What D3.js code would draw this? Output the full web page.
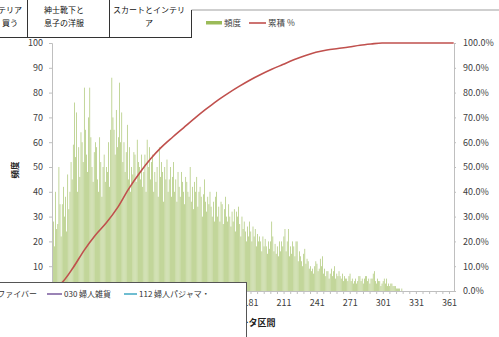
<!DOCTYPE html>
<html>
<head>
<meta charset="utf-8">
<script src="https://cdn.jsdelivr.net/npm/d3@7"></script>
<style>
  html, body { margin: 0; padding: 0; background: #fff; }
  svg { display: block; }
  text { font-family: "Noto Sans CJK JP", "Noto Sans", sans-serif; }
</style>
</head>
<body>
<svg id="chart" width="499" height="337"></svg>
<script>
// Data intervals (1..365) and their frequencies
const categories = d3.range(1, 366);
const frequency = [
  46, 28, 18, 40, 25, 27, 50, 35, 22, 35,
  42, 30, 38, 24, 47, 33, 40, 52, 45, 59,
  76, 54, 72, 40, 58, 46, 64, 60, 52, 82,
  65, 55, 48, 70, 82, 62, 50, 44, 56, 60,
  58, 45, 40, 62, 52, 38, 50, 55, 44, 50,
  48, 60, 42, 65, 86, 70, 65, 55, 73, 58,
  62, 84, 60, 72, 52, 60, 48, 56, 67, 45,
  58, 40, 50, 47, 56, 55, 44, 61, 52, 50,
  45, 55, 42, 48, 55, 40, 61, 50, 58, 45,
  52, 55, 40, 48, 44, 50, 38, 58, 46, 52,
  48, 36, 50, 45, 53, 40, 45, 50, 38, 46,
  52, 40, 45, 36, 48, 42, 38, 48, 44, 40,
  35, 46, 44, 40, 38, 50, 36, 42, 33, 44,
  40, 46, 34, 40, 42, 38, 30, 39, 45, 36,
  32, 38, 35, 40, 34, 30, 36, 28, 38, 40,
  30, 34, 28, 36, 35, 27, 33, 38, 30, 28,
  35, 30, 26, 32, 28, 33, 24, 32, 30, 34,
  27, 22, 30, 25, 28, 24, 20, 26, 22, 28,
  24, 20, 26, 22, 25, 18, 23, 20, 22, 20,
  16, 22, 18, 21, 18, 15, 20, 17, 20, 28,
  22, 16, 19, 15, 18, 14, 20, 16, 20, 18,
  22, 25, 16, 20, 25, 14, 18, 15, 20, 18,
  14, 20, 20, 12, 16, 14, 12, 10, 15, 17,
  11, 13, 12, 9, 10, 8, 9, 7, 10, 12,
  11, 8, 9, 13, 10, 14, 7, 9, 6, 8,
  8, 5, 7, 9, 6, 8, 10, 5, 7, 6,
  8, 6, 5, 7, 4, 6, 5, 5, 4, 6,
  7, 4, 5, 3, 4, 5, 3, 4, 6, 6,
  4, 5, 3, 5, 6, 6, 4, 5, 3, 5,
  5, 7, 8, 4, 3, 5, 4, 4, 2, 3,
  4, 5, 3, 5, 2, 3, 2, 3, 3, 2,
  2, 2, 1, 1, 1, 1, 0, 1, 0, 0,
  0, 0, 0, 0, 0, 0, 0, 0, 0, 0,
  0, 0, 0, 0, 0, 0, 0, 0, 0, 0,
  0, 0, 0, 0, 0, 0, 0, 0, 0, 0,
  0, 0, 0, 0, 0, 0, 0, 0, 0, 0,
  0, 0, 0, 0, 0
];
// Cumulative percentage at selected intervals
const cumulativeCats = [1, 10, 20, 30, 40, 50, 60, 70, 80, 90, 100, 110, 120, 130, 140, 150,
  160, 170, 180, 190, 200, 210, 220, 230, 240, 250, 260, 270, 280, 290, 300, 330, 365];
const cumulativePct = [1.0, 3.5, 9.5, 16.5, 22.5, 27.5, 33.5, 41.0, 47.5, 53.2, 58.0, 62.0, 65.8, 69.6, 73.2, 76.6,
  79.6, 82.4, 85.0, 87.3, 89.4, 91.3, 93.2, 94.9, 96.3, 97.2, 97.8, 98.4, 99.1, 99.6, 100, 100, 100];
const xTickLabels = [1, 31, 61, 91, 121, 151, 181, 211, 241, 271, 301, 331, 361];
const yTicks = [0, 10, 20, 30, 40, 50, 60, 70, 80, 90, 100];
const pctTicks = [0, 0.1, 0.2, 0.3, 0.4, 0.5, 0.6, 0.7, 0.8, 0.9, 1.0];
const seriesNames = ["頻度", "累積 %"];
const tabRows = [["テリア", "買う"], ["紳士靴下と", "息子の洋服"], ["スカートとインテリ", "ア"]];
const otherLegend = ["ファイバー", "030 婦人雑貨", "112 婦人パジャマ・"];

const svg = d3.select("#chart");
const plotLeft = 52, plotRight = 454, plotTop = 43, plotBottom = 291;
const panelRight = 246.5; // right edge of the overlapping legend panel

const x = d3.scaleBand().domain(categories).range([plotLeft, plotRight]).paddingInner(0.45);
const y = d3.scaleLinear().domain([0, 100]).range([plotBottom, plotTop]);
const y2 = d3.scaleLinear().domain([0, 1]).range([plotBottom, plotTop]);

svg.append("rect").attr("width", 499).attr("height", 337).attr("fill", "#fff");

// frequency bars
svg.append("g").selectAll("rect")
  .data(categories.map((c, i) => ({ c, v: frequency[i] })))
  .join("rect")
  .attr("x", d => x(d.c))
  .attr("width", x.bandwidth())
  .attr("y", d => y(d.v))
  .attr("height", d => plotBottom - y(d.v))
  .attr("fill", "#9bbb59");

// axes
const axisColor = "#bfbfbf";
const gl = svg.append("g").attr("transform", `translate(${plotLeft},0)`)
  .call(d3.axisLeft(y).tickValues(yTicks).tickSize(3).tickPadding(6).tickFormat(d3.format("d")));
const gr = svg.append("g").attr("transform", `translate(${plotRight},0)`)
  .call(d3.axisRight(y2).tickValues(pctTicks).tickSize(2).tickPadding(7).tickFormat(d3.format(".1%")));
// category labels that sit fully under the legend panel are left out
const gb = svg.append("g").attr("transform", `translate(0,${plotBottom})`)
  .call(d3.axisBottom(x).tickValues(xTickLabels.filter(v => x(v) + 8 > panelRight)).tickSize(0).tickPadding(9));
const gm = svg.append("g").attr("transform", `translate(0,${plotBottom})`)
  .call(d3.axisBottom(x).tickValues(categories.filter((d, i) => i % 6 === 0)).tickSize(3).tickFormat(""));
gm.select(".domain").remove();
[gl, gr, gb, gm].forEach(g => {
  g.selectAll(".domain").attr("stroke", axisColor);
  g.selectAll(".tick line").attr("stroke", axisColor);
  g.selectAll("text").attr("font-size", 9).attr("fill", "#404040");
});

// cumulative % line
const line = d3.line()
  .x(d => x(d.c) + x.bandwidth() / 2)
  .y(d => y2(d.p / 100))
  .curve(d3.curveMonotoneX);
svg.append("path")
  .datum(cumulativeCats.map((c, i) => ({ c, p: cumulativePct[i] })))
  .attr("d", line)
  .attr("fill", "none")
  .attr("stroke", "#c0504d")
  .attr("stroke-width", 1.6);

// axis titles
svg.append("text").attr("transform", "translate(18,170) rotate(-90)")
  .attr("text-anchor", "middle").attr("font-size", 8.5).attr("font-weight", "bold")
  .attr("fill", "#222").text("頻度");
svg.append("text").attr("x", 253).attr("y", 326)
  .attr("text-anchor", "middle").attr("font-size", 9).attr("font-weight", "bold")
  .attr("fill", "#222").text("データ区間");

// series legend
const lg = svg.append("g");
lg.append("rect").attr("x", 206).attr("y", 21).attr("width", 16).attr("height", 3.5).attr("fill", "#9bbb59");
lg.append("text").attr("x", 224).attr("y", 26).attr("fill", "#404040").attr("font-size", 8.5).text(seriesNames[0]);
lg.append("line").attr("x1", 249).attr("x2", 266).attr("y1", 23).attr("y2", 23)
  .attr("stroke", "#c0504d").attr("stroke-width", 1.6);
lg.append("text").attr("x", 268).attr("y", 26).attr("fill", "#404040").attr("font-size", 8.5).text(seriesNames[1]);

// tab strip along the top
const tabs = svg.append("g");
tabs.append("rect").attr("x", -5).attr("y", -2).attr("width", 196.5).attr("height", 39.5).attr("fill", "#fff");
tabs.append("line").attr("x1", 191.5).attr("x2", 499).attr("y1", 10).attr("y2", 10)
  .attr("stroke", "#cfcfcf").attr("stroke-width", 2);
tabs.append("line").attr("x1", 0).attr("x2", 192).attr("y1", 37.5).attr("y2", 37.5).attr("stroke", "#333");
[[27.5, 0], [109.5, 0], [191.5, 10]].forEach(([vx, y0]) =>
  tabs.append("line").attr("x1", vx).attr("x2", vx).attr("y1", y0).attr("y2", 37.5).attr("stroke", "#333"));
const tabCenters = [10, 64, 149];
tabRows.forEach((rows, i) => rows.forEach((t, j) =>
  tabs.append("text").attr("x", tabCenters[i]).attr("y", 13 + j * 13)
    .attr("text-anchor", "middle").attr("font-size", 8).attr("fill", "#111").text(t)));

// legend panel of another chart at bottom left
const box = svg.append("g");
box.append("rect").attr("x", -2).attr("y", 282.5).attr("width", panelRight + 2).attr("height", 60)
  .attr("fill", "#fff").attr("stroke", "#555");
box.append("text").attr("x", 37).attr("y", 297).attr("text-anchor", "end")
  .attr("font-size", 8).attr("fill", "#333").text(otherLegend[0]);
box.append("line").attr("x1", 47).attr("x2", 62).attr("y1", 294).attr("y2", 294)
  .attr("stroke", "#8064a2").attr("stroke-width", 1.6);
box.append("text").attr("x", 64).attr("y", 297).attr("font-size", 8).attr("fill", "#333").text(otherLegend[1]);
box.append("line").attr("x1", 124).attr("x2", 137).attr("y1", 294).attr("y2", 294)
  .attr("stroke", "#4bacc6").attr("stroke-width", 1.6);
box.append("text").attr("x", 139).attr("y", 297).attr("font-size", 8).attr("fill", "#333").text(otherLegend[2]);
</script>
</body>
</html>
